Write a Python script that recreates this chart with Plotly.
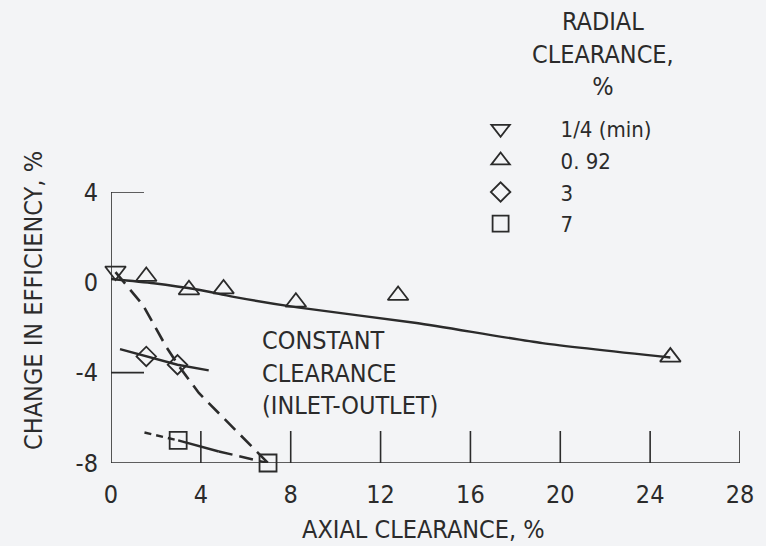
import plotly.graph_objects as go

# ---- data: change in efficiency vs axial clearance ----
# radial clearance 1/4 % (minimum)
min_x = [0.2]
min_y = [0.5]

# radial clearance 0.92 %
r092_x = [1.57, 3.47, 5.01, 8.23, 12.78, 24.9]
r092_y = [0.26, -0.33, -0.29, -0.88, -0.58, -3.31]
r092_fit_x = [0.0, 1.9, 3.9, 5.4, 8.3, 13.6, 19.2, 24.9]
r092_fit_y = [0.15, -0.04, -0.33, -0.63, -1.11, -1.8, -2.69, -3.33]

# radial clearance 3 %
r3_x = [1.57, 2.96]
r3_y = [-3.28, -3.65]
r3_fit_x = [0.4, 1.57, 2.96, 4.35]
r3_fit_y = [-2.96, -3.28, -3.65, -3.9]

# radial clearance 7 %
r7_x = [2.99, 6.99]
r7_y = [-7.0, -8.0]
r7_lead_x = [1.49, 2.99]
r7_lead_y = [-6.65, -7.0]
r7_mid_x = [2.99, 4.8]
r7_mid_y = [-7.0, -7.49]
r7_tail_x = [4.8, 6.99]
r7_tail_y = [-7.49, -8.0]

# constant clearance (inlet-outlet) curve
const_x = [0.2, 1.42, 2.45, 3.03, 3.91, 5.38, 6.7, 6.99]
const_y = [0.45, -1.0, -2.84, -3.72, -4.9, -6.38, -7.7, -8.0]

x_ticks = [0, 4, 8, 12, 16, 20, 24, 28]
x_labels = ["0", "4", "8", "12", "16", "20", "24", "28"]
y_ticks = [-8, -4, 0, 4]
y_labels = ["-8", "-4", "0", "4"]
y_tick_marks = [-4, 4]

FONT = "'Liberation Sans Narrow', 'DejaVu Sans Condensed', 'Arial Narrow', sans-serif"
INK = "#2b2b2b"
BG = "#f3f4f6"

fig = go.Figure()

line_style = dict(color=INK, width=2.4)

# fitted curves
fig.add_trace(go.Scatter(x=r092_fit_x, y=r092_fit_y, mode="lines",
                         line=dict(line_style, shape="spline", smoothing=0.6),
                         showlegend=False, hoverinfo="skip", cliponaxis=False))
fig.add_trace(go.Scatter(x=r3_fit_x, y=r3_fit_y, mode="lines", line=line_style,
                         showlegend=False, hoverinfo="skip", cliponaxis=False))
fig.add_trace(go.Scatter(x=r7_lead_x, y=r7_lead_y, mode="lines",
                         line=dict(line_style, dash="7px,5px"),
                         showlegend=False, hoverinfo="skip", cliponaxis=False))
fig.add_trace(go.Scatter(x=r7_mid_x, y=r7_mid_y, mode="lines", line=line_style,
                         showlegend=False, hoverinfo="skip", cliponaxis=False))
fig.add_trace(go.Scatter(x=r7_tail_x, y=r7_tail_y, mode="lines",
                         line=dict(line_style, dash="14px,7px"),
                         showlegend=False, hoverinfo="skip", cliponaxis=False))
fig.add_trace(go.Scatter(x=const_x, y=const_y, mode="lines",
                         line=dict(color=INK, width=2.6, dash="15px,8px"),
                         showlegend=False, hoverinfo="skip", cliponaxis=False))

# measured points
marker_line = dict(color=INK, width=1.8)
fig.add_trace(go.Scatter(x=min_x, y=min_y, mode="markers", name="1/4 (min)",
                         marker=dict(symbol="triangle-down-open", size=18, line=marker_line, color=INK),
                         cliponaxis=False))
fig.add_trace(go.Scatter(x=r092_x, y=r092_y, mode="markers", name="0. 92",
                         marker=dict(symbol="triangle-up-open", size=18, line=marker_line, color=INK),
                         cliponaxis=False))
fig.add_trace(go.Scatter(x=r3_x, y=r3_y, mode="markers", name="3",
                         marker=dict(symbol="diamond-open", size=15, line=marker_line, color=INK),
                         cliponaxis=False))
fig.add_trace(go.Scatter(x=r7_x, y=r7_y, mode="markers", name="7",
                         marker=dict(symbol="square-open", size=17, line=marker_line, color=INK),
                         cliponaxis=False))

# axis frame: left and bottom lines, ticks pointing inward
axis_line = dict(color=INK, width=1.6)
shapes = [
    dict(type="line", xref="x", yref="y", x0=x_ticks[0], x1=x_ticks[0],
         y0=y_ticks[0], y1=y_ticks[-1], line=axis_line),
    dict(type="line", xref="x", yref="y", x0=x_ticks[0], x1=x_ticks[-1],
         y0=y_ticks[0], y1=y_ticks[0], line=axis_line),
]
for yv in y_tick_marks:
    shapes.append(dict(type="line", xref="x", yref="y", xsizemode="pixel", xanchor=x_ticks[0],
                       x0=0, x1=33, y0=yv, y1=yv, line=axis_line))
for xv in x_ticks[1:]:
    shapes.append(dict(type="line", xref="x", yref="y", ysizemode="pixel", yanchor=y_ticks[0],
                       y0=0, y1=32, x0=xv, x1=xv, line=axis_line))

annotations = [
    dict(text="CONSTANT<br>CLEARANCE<br>(INLET-OUTLET)", xref="x", yref="y",
         x=6.64, y=-4.0, xanchor="left", yanchor="middle", align="left",
         showarrow=False, font=dict(size=25)),
    dict(text="RADIAL<br>CLEARANCE,<br>%", xref="paper", yref="paper",
         x=0.782, y=1.509, xanchor="center", yanchor="middle", align="center",
         showarrow=False, font=dict(size=25)),
    dict(text="AXIAL CLEARANCE, %", xref="paper", yref="paper",
         x=0.4976, y=-0.247, xanchor="center", yanchor="middle",
         showarrow=False, font=dict(size=25)),
    dict(text="CHANGE IN EFFICIENCY, %", xref="paper", yref="paper",
         x=-0.1225, y=0.6015, xanchor="center", yanchor="middle", textangle=-90,
         showarrow=False, font=dict(size=25)),
]

fig.update_layout(
    width=766, height=546,
    margin=dict(l=111, r=18, t=192, b=83),
    paper_bgcolor=BG, plot_bgcolor=BG,
    font=dict(family=FONT, size=25, color=INK),
    shapes=shapes,
    annotations=annotations,
    legend=dict(x=0.524, y=1.31, xanchor="left", yanchor="top",
                bgcolor="rgba(0,0,0,0)", itemwidth=110, tracegroupgap=0,
                font=dict(size=22)),
    xaxis=dict(range=[x_ticks[0], x_ticks[-1]], showgrid=False, zeroline=False,
               showline=False, ticks="", tickvals=x_ticks, ticktext=x_labels,
               ticklabelstandoff=14, fixedrange=True),
    yaxis=dict(range=[y_ticks[0], y_ticks[-1]], showgrid=False, zeroline=False,
               showline=False, ticks="", tickvals=y_ticks, ticktext=y_labels,
               ticklabelstandoff=12, fixedrange=True),
)

fig.write_html("out.html")
